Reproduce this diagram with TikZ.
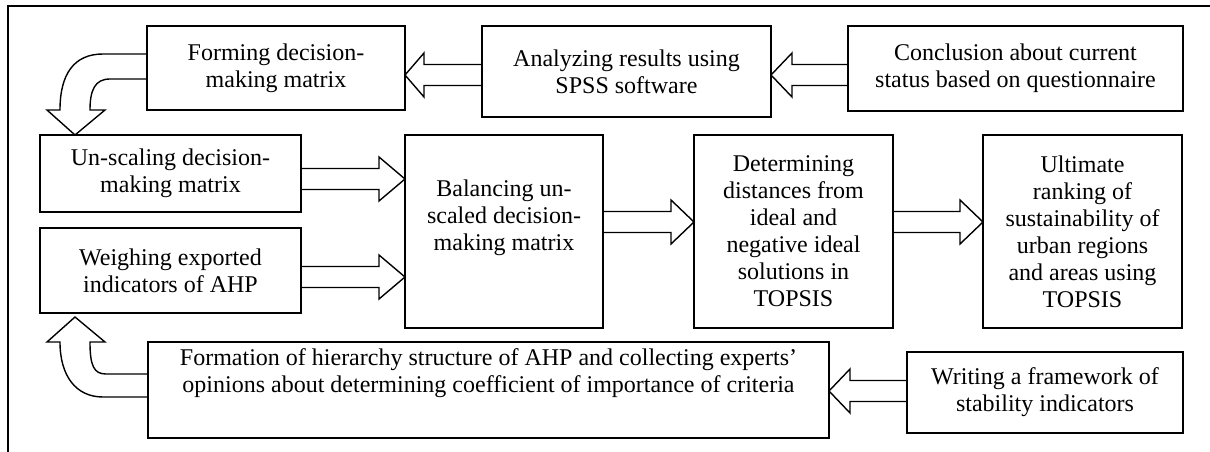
\documentclass[tikz,border=0pt]{standalone}
\usepackage{fontspec}
\setmainfont{Liberation Serif}
\usetikzlibrary{calc}
\tikzset{
  box/.style={draw, line width=1.8pt, rectangle, align=center, inner sep=2pt, outer sep=0pt,
    font=\fontsize{24pt}{27pt}\selectfont},
  blk/.style={draw, line width=1.4pt, line join=miter},
}
% #1 tail point, #2 tip point, #3 direction (1 = right, -1 = left), #4 head length
\newcommand\flowarrow[4]{%
  \draw[blk] let \p1=#1, \p2=#2 in
    (\x1,{\y2+10.5pt}) -- ({\x2-(#3)*#4},{\y2+10.5pt}) -- ({\x2-(#3)*#4},{\y2+22pt})
    -- (\x2,\y2) -- ({\x2-(#3)*#4},{\y2-22pt}) -- ({\x2-(#3)*#4},{\y2-10.5pt}) -- (\x1,{\y2-10.5pt});
}
\begin{document}
\begin{tikzpicture}[x=1pt,y=-1pt]
\useasboundingbox (0,0) rectangle (1210,452);
% frame
\draw[line width=2pt] (7,6) -- (1210,6);
\draw[line width=2pt] (8,6) -- (8,452);
% boxes
\node[box, minimum width=258pt, minimum height=84pt] (b1) at (276,68) {Forming decision-\\making matrix};
\node[box, minimum width=289pt, minimum height=91pt] (b2) at (626.5,71.5) {Analyzing results using\\SPSS software};
\node[box, minimum width=335pt, minimum height=85pt] (b3) at (1015.5,68.5) {Conclusion about current\\status based on questionnaire};
\node[box, minimum width=261pt, minimum height=77pt] (b4) at (170.5,173.5) {Un-scaling decision-\\making matrix};
\node[box, minimum width=261pt, minimum height=85pt] (b5) at (170.5,270.5) {Weighing exported\\indicators of AHP};
\node[box, minimum width=198pt, minimum height=193pt] (b6) at (504,231.5) {Balancing un-\\scaled decision-\\making matrix\\[5pt]~};
\node[box, minimum width=199pt, minimum height=193pt] (b7) at (793.5,231.5) {Determining\\distances from\\ideal and\\negative ideal\\solutions in\\TOPSIS};
\node[box, minimum width=199pt, minimum height=193pt] (b8) at (1082.5,231.5) {Ultimate\\ranking of\\sustainability of\\urban regions\\and areas using\\TOPSIS};
\node[box, minimum width=681pt, minimum height=96pt] (b9) at (488.5,390) {Formation of hierarchy structure of AHP and collecting experts’\\opinions about determining coefficient of importance of criteria\\[12pt]~};
\node[box, minimum width=276pt, minimum height=81pt] (b10) at (1045,392.5) {Writing a framework of\\stability indicators};
% straight block arrows
\flowarrow{(b2.west)}{(b1.east |- 0,75)}{-1}{19pt}
\flowarrow{(b3.west)}{(b2.east |- 0,75)}{-1}{21pt}
\flowarrow{(b4.east)}{(b6.west |- 0,179)}{1}{26pt}
\flowarrow{(b5.east)}{(b6.west |- 0,277)}{1}{26pt}
\flowarrow{(b6.east)}{(b7.west |- 0,222)}{1}{23pt}
\flowarrow{(b7.east)}{(b8.west |- 0,222)}{1}{23pt}
\flowarrow{(b10.west)}{(b9.east |- 0,391)}{-1}{21pt}
% curved block arrow b1 -> b4
\draw[blk] (b1.west |- 0,54) -- (103,54) .. controls (74,54) and (60,74) .. (60,110)
  -- (47,110) -- (b4.north -| 75,0) -- (105,110) -- (90,110)
  .. controls (90,90) and (95,79) .. (110,79) -- (b1.west |- 0,79);
% curved block arrow b9 -> b5
\draw[blk] (b9.west |- 0,374) -- (106,374) .. controls (94,374) and (90,366) .. (90,342)
  -- (105,342) -- ($(b5.south -| 75,0)+(0,4)$) -- (47,342) -- (60,342)
  .. controls (60,376) and (76,397) .. (103,397) -- (b9.west |- 0,397);
\end{tikzpicture}
\end{document}
